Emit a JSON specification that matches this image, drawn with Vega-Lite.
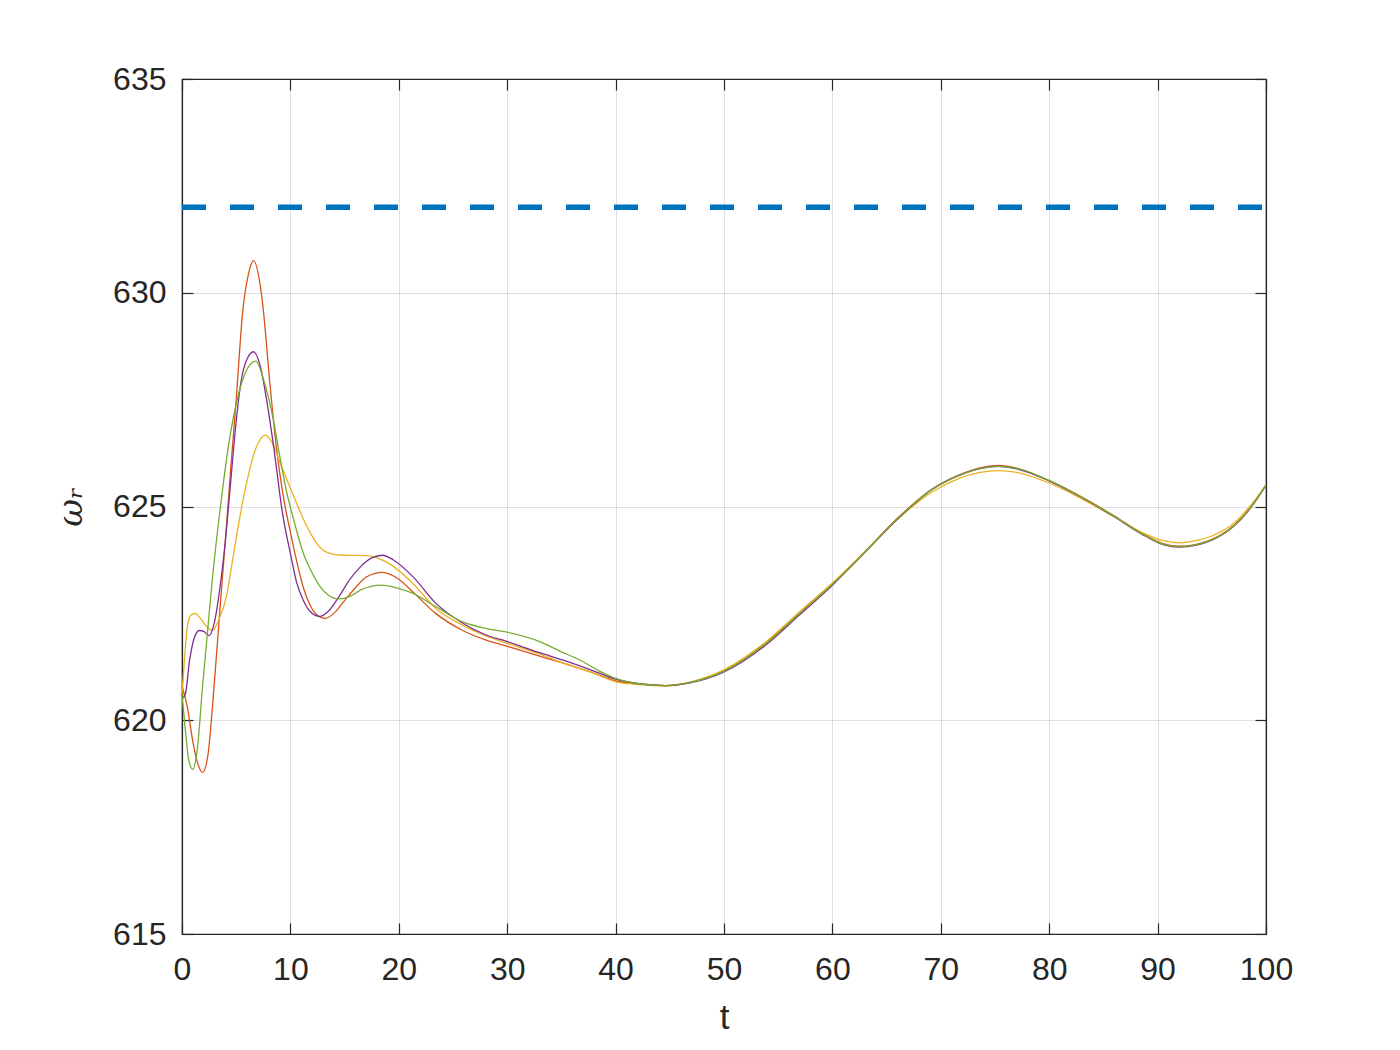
{
  "$schema": "https://vega.github.io/schema/vega-lite/v6.json",
  "width": 1084,
  "height": 855,
  "autosize": {"type": "none"},
  "padding": {"left": 182, "top": 79, "right": 134, "bottom": 116},
  "background": "white",
  "config": {
    "view": {"stroke": "#262626", "strokeWidth": 1.2},
    "axis": {"labelFont": "Liberation Sans", "titleFont": "Liberation Sans", "labelColor": "#262626", "titleColor": "#262626", "domainColor": "#262626", "tickColor": "#262626", "labelFontSize": 32, "titleFontSize": 35, "titleFontWeight": "normal", "tickSize": -11, "domainWidth": 1.2, "tickWidth": 1.2, "labelFlush": false}
  },
  "layer": [
    {
      "data": {"values": [
        {"s":"1","t":0,"v":620.8},{"s":"1","t":0.5,"v":620.3},{"s":"1","t":1,"v":619.5},{"s":"1","t":1.5,"v":618.95},{"s":"1","t":1.9,"v":618.78},{"s":"1","t":2.4,"v":619.2},{"s":"1","t":2.84,"v":620.4},{"s":"1","t":3.5,"v":622.6},{"s":"1","t":4,"v":624.2},{"s":"1","t":4.5,"v":625.9},{"s":"1","t":5,"v":627.5},{"s":"1","t":5.6,"v":629.56},{"s":"1","t":6.1,"v":630.4},{"s":"1","t":6.6,"v":630.75},{"s":"1","t":7.2,"v":630.2},{"s":"1","t":7.5,"v":629.6},{"s":"1","t":8.1,"v":627.9},{"s":"1","t":8.7,"v":626.4},{"s":"1","t":9.3,"v":625.3},{"s":"1","t":10,"v":624.4},{"s":"1","t":10.6,"v":623.7},{"s":"1","t":11.2,"v":623.1},{"s":"1","t":11.8,"v":622.7},{"s":"1","t":12.5,"v":622.45},{"s":"1","t":13.2,"v":622.38},{"s":"1","t":14,"v":622.5},{"s":"1","t":15,"v":622.8},{"s":"1","t":16,"v":623.1},{"s":"1","t":17,"v":623.35},{"s":"1","t":18.5,"v":623.46},{"s":"1","t":20,"v":623.3},{"s":"1","t":21.5,"v":622.95},{"s":"1","t":23.4,"v":622.5},{"s":"1","t":25.9,"v":622.1},{"s":"1","t":28,"v":621.88},{"s":"1","t":30,"v":621.73},{"s":"1","t":33,"v":621.5},{"s":"1","t":35.1,"v":621.34},{"s":"1","t":38,"v":621.1},{"s":"1","t":40,"v":620.92},{"s":"1","t":42,"v":620.85},{"s":"1","t":44.6,"v":620.81},{"s":"1","t":47,"v":620.9},{"s":"1","t":50,"v":621.16},{"s":"1","t":53.8,"v":621.79},{"s":"1","t":56.9,"v":622.49},{"s":"1","t":60,"v":623.19},{"s":"1","t":63.1,"v":623.97},{"s":"1","t":66.1,"v":624.75},{"s":"1","t":69.2,"v":625.41},{"s":"1","t":71.7,"v":625.74},{"s":"1","t":73.5,"v":625.9},{"s":"1","t":75.3,"v":625.96},{"s":"1","t":77,"v":625.9},{"s":"1","t":80,"v":625.6},{"s":"1","t":83,"v":625.22},{"s":"1","t":86,"v":624.78},{"s":"1","t":88.5,"v":624.38},{"s":"1","t":90.5,"v":624.13},{"s":"1","t":92,"v":624.07},{"s":"1","t":93.5,"v":624.11},{"s":"1","t":95,"v":624.23},{"s":"1","t":97,"v":624.55},{"s":"1","t":98.5,"v":624.95},{"s":"1","t":100,"v":625.5},

        {"s":"2","t":0,"v":620.6},{"s":"2","t":0.25,"v":621.5},{"s":"2","t":0.5,"v":622.2},{"s":"2","t":0.8,"v":622.45},{"s":"2","t":1.2,"v":622.5},{"s":"2","t":1.8,"v":622.35},{"s":"2","t":2.4,"v":622.15},{"s":"2","t":2.8,"v":622.1},{"s":"2","t":3.4,"v":622.35},{"s":"2","t":4.1,"v":622.9},{"s":"2","t":4.7,"v":623.8},{"s":"2","t":5.3,"v":624.7},{"s":"2","t":6,"v":625.6},{"s":"2","t":6.8,"v":626.35},{"s":"2","t":7.7,"v":626.67},{"s":"2","t":8.3,"v":626.5},{"s":"2","t":9,"v":626.06},{"s":"2","t":9.8,"v":625.55},{"s":"2","t":10.6,"v":625.06},{"s":"2","t":11.2,"v":624.7},{"s":"2","t":11.8,"v":624.4},{"s":"2","t":12.4,"v":624.15},{"s":"2","t":13,"v":623.98},{"s":"2","t":14,"v":623.88},{"s":"2","t":15,"v":623.86},{"s":"2","t":17,"v":623.85},{"s":"2","t":18,"v":623.8},{"s":"2","t":18.8,"v":623.71},{"s":"2","t":20,"v":623.5},{"s":"2","t":21.3,"v":623.2},{"s":"2","t":23.4,"v":622.62},{"s":"2","t":25.9,"v":622.22},{"s":"2","t":28,"v":621.98},{"s":"2","t":30,"v":621.8},{"s":"2","t":33,"v":621.55},{"s":"2","t":35.1,"v":621.34},{"s":"2","t":38,"v":621.1},{"s":"2","t":40,"v":620.9},{"s":"2","t":42,"v":620.84},{"s":"2","t":44.6,"v":620.8},{"s":"2","t":47,"v":620.9},{"s":"2","t":50,"v":621.18},{"s":"2","t":53.8,"v":621.82},{"s":"2","t":56.9,"v":622.52},{"s":"2","t":60,"v":623.21},{"s":"2","t":63.1,"v":623.97},{"s":"2","t":66.1,"v":624.72},{"s":"2","t":69.2,"v":625.34},{"s":"2","t":71.7,"v":625.66},{"s":"2","t":73.5,"v":625.79},{"s":"2","t":75.3,"v":625.84},{"s":"2","t":77,"v":625.8},{"s":"2","t":80,"v":625.55},{"s":"2","t":83,"v":625.18},{"s":"2","t":86,"v":624.76},{"s":"2","t":88.5,"v":624.4},{"s":"2","t":90.5,"v":624.2},{"s":"2","t":92,"v":624.15},{"s":"2","t":93.5,"v":624.2},{"s":"2","t":95,"v":624.31},{"s":"2","t":97,"v":624.6},{"s":"2","t":98.5,"v":625.0},{"s":"2","t":100,"v":625.5},

        {"s":"3","t":0,"v":620.5},{"s":"3","t":0.3,"v":620.6},{"s":"3","t":0.7,"v":621.4},{"s":"3","t":1.1,"v":621.9},{"s":"3","t":1.6,"v":622.1},{"s":"3","t":2,"v":622.08},{"s":"3","t":2.5,"v":621.98},{"s":"3","t":3,"v":622.3},{"s":"3","t":3.5,"v":623.1},{"s":"3","t":4,"v":624.2},{"s":"3","t":4.5,"v":625.6},{"s":"3","t":5,"v":627.0},{"s":"3","t":5.5,"v":628.0},{"s":"3","t":6,"v":628.45},{"s":"3","t":6.6,"v":628.62},{"s":"3","t":7.2,"v":628.3},{"s":"3","t":7.8,"v":627.5},{"s":"3","t":8.4,"v":626.5},{"s":"3","t":9.3,"v":624.8},{"s":"3","t":10,"v":623.9},{"s":"3","t":10.6,"v":623.2},{"s":"3","t":11.2,"v":622.8},{"s":"3","t":11.8,"v":622.55},{"s":"3","t":12.7,"v":622.43},{"s":"3","t":13.5,"v":622.55},{"s":"3","t":14.5,"v":622.9},{"s":"3","t":15.5,"v":623.3},{"s":"3","t":16.5,"v":623.6},{"s":"3","t":17.5,"v":623.8},{"s":"3","t":18.5,"v":623.86},{"s":"3","t":19.5,"v":623.75},{"s":"3","t":21.3,"v":623.36},{"s":"3","t":23.4,"v":622.74},{"s":"3","t":25.9,"v":622.27},{"s":"3","t":28,"v":622.0},{"s":"3","t":30,"v":621.84},{"s":"3","t":33,"v":621.58},{"s":"3","t":35.1,"v":621.41},{"s":"3","t":38,"v":621.15},{"s":"3","t":40,"v":620.96},{"s":"3","t":42,"v":620.86},{"s":"3","t":44.6,"v":620.81},{"s":"3","t":47,"v":620.88},{"s":"3","t":50,"v":621.13},{"s":"3","t":53.8,"v":621.75},{"s":"3","t":56.9,"v":622.45},{"s":"3","t":60,"v":623.16},{"s":"3","t":63.1,"v":623.95},{"s":"3","t":66.1,"v":624.73},{"s":"3","t":69.2,"v":625.4},{"s":"3","t":71.7,"v":625.73},{"s":"3","t":73.5,"v":625.88},{"s":"3","t":75.3,"v":625.94},{"s":"3","t":77,"v":625.88},{"s":"3","t":80,"v":625.6},{"s":"3","t":83,"v":625.21},{"s":"3","t":86,"v":624.76},{"s":"3","t":88.5,"v":624.36},{"s":"3","t":90.5,"v":624.11},{"s":"3","t":92,"v":624.05},{"s":"3","t":93.5,"v":624.09},{"s":"3","t":95,"v":624.21},{"s":"3","t":97,"v":624.53},{"s":"3","t":98.5,"v":624.94},{"s":"3","t":100,"v":625.5},

        {"s":"4","t":0,"v":620.6},{"s":"4","t":0.3,"v":619.8},{"s":"4","t":0.6,"v":619.1},{"s":"4","t":1,"v":618.85},{"s":"4","t":1.4,"v":619.3},{"s":"4","t":1.9,"v":620.8},{"s":"4","t":2.4,"v":622.2},{"s":"4","t":2.8,"v":623.3},{"s":"4","t":3.5,"v":624.9},{"s":"4","t":4.4,"v":626.6},{"s":"4","t":5,"v":627.4},{"s":"4","t":5.8,"v":628.1},{"s":"4","t":6.8,"v":628.4},{"s":"4","t":7.6,"v":627.9},{"s":"4","t":8.4,"v":627.06},{"s":"4","t":9,"v":626.2},{"s":"4","t":9.6,"v":625.4},{"s":"4","t":10.4,"v":624.6},{"s":"4","t":11.2,"v":623.9},{"s":"4","t":12,"v":623.45},{"s":"4","t":12.7,"v":623.14},{"s":"4","t":13.5,"v":622.93},{"s":"4","t":14.4,"v":622.84},{"s":"4","t":15.5,"v":622.9},{"s":"4","t":16.5,"v":623.05},{"s":"4","t":18.4,"v":623.16},{"s":"4","t":20,"v":623.08},{"s":"4","t":21.3,"v":622.97},{"s":"4","t":23.4,"v":622.66},{"s":"4","t":25.9,"v":622.3},{"s":"4","t":28,"v":622.15},{"s":"4","t":30,"v":622.06},{"s":"4","t":33,"v":621.84},{"s":"4","t":35,"v":621.6},{"s":"4","t":36.7,"v":621.41},{"s":"4","t":38.5,"v":621.15},{"s":"4","t":40,"v":620.98},{"s":"4","t":42,"v":620.86},{"s":"4","t":44.6,"v":620.81},{"s":"4","t":47,"v":620.89},{"s":"4","t":50,"v":621.15},{"s":"4","t":53.8,"v":621.78},{"s":"4","t":56.9,"v":622.48},{"s":"4","t":60,"v":623.18},{"s":"4","t":63.1,"v":623.96},{"s":"4","t":66.1,"v":624.74},{"s":"4","t":69.2,"v":625.4},{"s":"4","t":71.7,"v":625.73},{"s":"4","t":73.5,"v":625.88},{"s":"4","t":75.3,"v":625.94},{"s":"4","t":77,"v":625.89},{"s":"4","t":80,"v":625.61},{"s":"4","t":83,"v":625.22},{"s":"4","t":86,"v":624.77},{"s":"4","t":88.5,"v":624.37},{"s":"4","t":90.5,"v":624.12},{"s":"4","t":92,"v":624.06},{"s":"4","t":93.5,"v":624.1},{"s":"4","t":95,"v":624.22},{"s":"4","t":97,"v":624.54},{"s":"4","t":98.5,"v":624.95},{"s":"4","t":100,"v":625.5}
      ]},
      "mark": {"type": "line", "strokeWidth": 1.3, "interpolate": "monotone"},
      "encoding": {
        "x": {"field": "t", "type": "quantitative", "scale": {"domain": [0, 100], "nice": false, "zero": false},
              "axis": {"orient": "bottom", "title": "t", "values": [0,10,20,30,40,50,60,70,80,90,100], "labelPadding": 31, "titlePadding": 15, "gridColor": "#262626", "gridOpacity": 0.15, "gridWidth": 1}},
        "y": {"field": "v", "type": "quantitative", "scale": {"domain": [615, 635], "nice": false, "zero": false},
              "axis": {"orient": "left", "title": "ωᵣ", "titleFont": "DejaVu Serif", "titleFontStyle": "italic", "titleFontSize": 34, "values": [615,620,625,630,635], "labelPadding": 27, "titlePadding": 24, "gridColor": "#262626", "gridOpacity": 0.15, "gridWidth": 1}},
        "color": {"field": "s", "type": "nominal", "legend": null,
                  "scale": {"domain": ["1","2","3","4"], "range": ["#D95319", "#EDB120", "#7E2F8E", "#77AC30"]}}
      }
    },
    {
      "data": {"values": [{"t": 0, "ref": 632}, {"t": 100, "ref": 632}]},
      "mark": {"type": "line", "color": "#0072BD", "strokeWidth": 5.5, "strokeDash": [24, 24], "strokeCap": "butt"},
      "encoding": {
        "x": {"field": "t", "type": "quantitative", "axis": {"orient": "top", "title": null, "labels": false, "grid": false, "values": [0,10,20,30,40,50,60,70,80,90,100]}},
        "y": {"field": "ref", "type": "quantitative", "axis": {"orient": "right", "title": null, "labels": false, "grid": false, "values": [615,620,625,630,635]}}
      }
    }
  ],
  "resolve": {"axis": {"x": "independent", "y": "independent"}}
}
